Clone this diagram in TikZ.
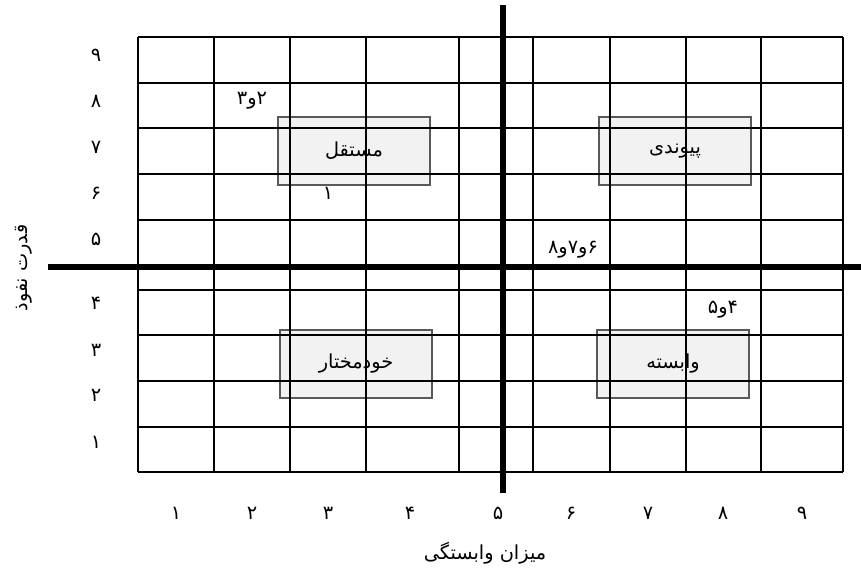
\documentclass[tikz,border=0pt]{standalone}
\usepackage{fontspec}
\newfontfamily\arabicfont[Script=Arabic]{DejaVu Sans}
\TeXXeTstate=1
\usepackage{xcolor}
\definecolor{cLine}{HTML}{000000}
\definecolor{cBoxLine}{HTML}{595959}
\definecolor{cBoxFill}{HTML}{F2F2F2}
\usepackage{tikz}
\usetikzlibrary{positioning}
\newcommand{\fatext}[1]{{\arabicfont\beginR #1\endR}}
\tikzset{
  grid-line/.style={draw=cLine,line width=1.4pt},
  axis-line/.style={draw=cLine,line width=3.2pt},
  node-quad/.style={draw=cBoxLine,line width=0.6pt,fill=cBoxFill,
    minimum width=3.04cm,minimum height=1.36cm,inner sep=0pt,align=center},
  node-tick/.style={inner sep=0pt},
  node-note/.style={inner sep=0pt},
}

\begin{document}
\begin{tikzpicture}[x=0.02cm,y=-0.02cm,every node/.style={font=\fontsize{11}{13}\selectfont}]
  \useasboundingbox (0,0) rectangle (861,571);
  % quadrant boxes, behind the table
  \node[node-quad] (indep) at (354,151) {\fatext{مستقل}};
  \node[node-quad] (link)  at (675,151) {\fatext{پیوندی}};
  \node[node-quad] (auto)  at (356,364) {\fatext{خودمختار}};
  \node[node-quad] (dep)   at (673,364) {\fatext{وابسته}};
  % table
  \foreach \gx in {138,214,290,366,459,533,610,686,761,843}
    \draw[grid-line] (\gx,37) -- (\gx,472);
  \foreach \gy in {37,83,128,174,220,290,335,381,427,472}
    \draw[grid-line] (138,\gy) -- (843,\gy);
  % axes
  \coordinate (hx-start) at (48,267);
  \coordinate (hx-end)   at (861,267);
  \coordinate (vy-start) at (503,5);
  \coordinate (vy-end)   at (503,493);
  \draw[axis-line] (hx-start) -- (hx-end);
  \draw[axis-line] (vy-start) -- (vy-end);
  % scale numbers
  \foreach \d/\py in {۱/442,۲/395,۳/350,۴/303,۵/239,۶/193,۷/147,۸/101,۹/55}
    \node[node-tick] (y-\py) at (96,\py) {\fatext{\d}};
  \foreach \d/\px in {۱/176,۲/252,۳/328,۴/410,۵/498,۶/571,۷/648,۸/723,۹/802}
    \node[node-tick] (x-\px) at (\px,513) {\fatext{\d}};
  % points
  \node[node-note] (p23)  at (252,101) {\fatext{۲و۳}};
  \node[node-note] (p1)   at (328,193) {\fatext{۱}};
  \node[node-note] (p678) at (573,250) {\fatext{۶و۷و۸}};
  \node[node-note] (p45)  at (723,310) {\fatext{۴و۵}};
  % axis titles
  \node (xtitle) at (485,553) {\fatext{میزان وابستگی}};
  \node[rotate=90] (ytitle) at (24,268) {\fatext{قدرت نفوذ}};
\end{tikzpicture}
\end{document}
